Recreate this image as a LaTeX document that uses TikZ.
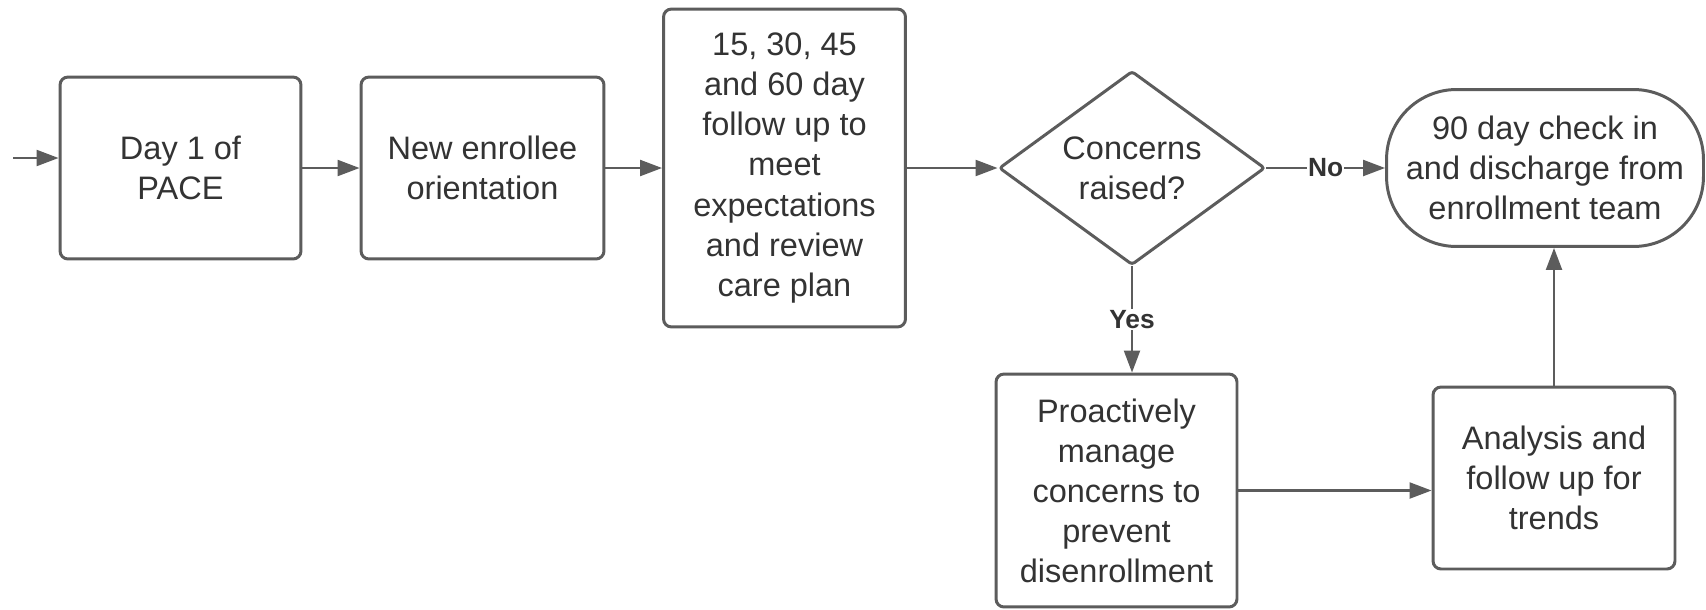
\documentclass[tikz,border=0pt]{standalone}
\usepackage{fontspec}
\setmainfont{Liberation Sans}
\usepackage{tikz}
\usetikzlibrary{shapes.geometric,arrows.meta,positioning}
\definecolor{flowline}{RGB}{92,92,92}
\definecolor{flowtext}{RGB}{51,51,51}
\tikzset{
  stepbox/.style={rectangle, rounded corners=0.16cm, draw=flowline, line width=1.7pt,
                  fill=white, text=flowtext, align=center, inner sep=0pt,
                  font=\fontsize{18.5}{22.8}\selectfont},
  decision/.style={diamond, rounded corners=0.06cm, draw=flowline, line width=1.7pt,
                   fill=white, text=flowtext, align=center, inner sep=0pt, aspect=1.4,
                   font=\fontsize{18.5}{22.8}\selectfont},
  endbox/.style={rectangle, rounded corners=1.4cm, draw=flowline, line width=1.7pt,
                 fill=white, text=flowtext, align=center, inner sep=0pt,
                 font=\fontsize{18.5}{22.8}\selectfont},
  flow/.style={-{Triangle[length=0.44cm,width=0.32cm]}, draw=flowline, line width=1.3pt},
  branch/.style={font=\fontsize{15}{17}\selectfont\bfseries, text=flowtext,
                 fill=white, inner sep=0.5pt},
}

\begin{document}
\begin{tikzpicture}[x=0.02cm,y=-0.02cm]
  \useasboundingbox (0,0) rectangle (1706,609);
  % top row
  \node[stepbox, minimum width=4.82cm, minimum height=3.64cm] (day1) at (180.5,168) {Day 1 of\\PACE};
  \node[stepbox, minimum width=4.86cm, minimum height=3.64cm] (orient) at (482.5,168) {New enrollee\\orientation};
  \node[stepbox, minimum width=4.84cm, minimum height=6.36cm] (follow) at (784.5,168)
    {15, 30, 45\\and 60 day\\follow up to\\meet\\expectations\\and review\\care plan};
  \node[decision, minimum width=5.32cm, minimum height=3.88cm] (concern) at (1132,168) {Concerns\\raised?};
  \node[endbox, minimum width=6.34cm, minimum height=3.14cm] (discharge) at (1545,168)
    {90 day check in\\and discharge from\\enrollment team};
  % bottom row
  \node[stepbox, minimum width=4.82cm, minimum height=4.66cm] (manage) at (1116.5,490.5)
    {Proactively\\manage\\concerns to\\prevent\\disenrollment};
  \node[stepbox, minimum width=4.84cm, minimum height=3.64cm] (trends) at (1554,478)
    {Analysis and\\follow up for\\trends};
  \coordinate (entry) at (13,158);

  % connectors
  \draw[flow] (entry) -- (entry -| day1.west);
  \draw[flow] (day1) -- (orient);
  \draw[flow] (orient) -- (follow);
  \draw[flow] (follow) -- (concern);
  \draw[flow] (concern) -- node[branch]{No} (discharge);
  \draw[flow] (concern.south) -- node[branch]{Yes} (concern.south |- manage.north);
  \draw[flow] (manage.east) -- (manage.east -| trends.west);
  \draw[flow] (trends.north) -- (trends.north |- discharge.south);
\end{tikzpicture}
\end{document}
